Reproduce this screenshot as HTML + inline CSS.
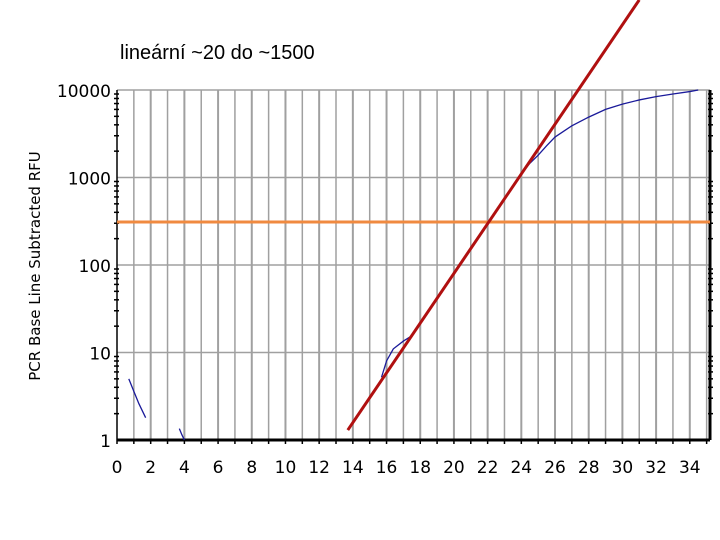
<!DOCTYPE html>
<html><head><meta charset="utf-8"><style>body{margin:0;background:#fff}svg{display:block}</style></head>
<body>
<svg id="c" width="720" height="540" font-family="'DejaVu Sans','Liberation Sans',sans-serif">
<text x="120" y="59" font-family="'Liberation Sans',sans-serif" font-size="20">lineární ~20 do ~1500</text>
<text transform="translate(40,266) rotate(-90)" text-anchor="middle" font-size="15">PCR Base Line Subtracted RFU</text>
<g id="grid"></g><g id="axes"></g><g id="marks"></g>
</svg>
<script>
const xTicks=[0,2,4,6,8,10,12,14,16,18,20,22,24,26,28,30,32,34];
const yTicks=[1,10,100,1000,10000];
const seg1X=[0.7,1.0,1.3,1.7];
const seg1Y=[5,3.6,2.6,1.8];
const seg2X=[3.7,3.85,4.0];
const seg2Y=[1.35,1.15,1.0];
const curveX=[15.7,16.0,16.4,17.0,17.5,18,19,20,21,22,23,24,24.5,25,25.5,26,27,28,29,30,31,32,33,34,34.5];
const curveY=[5.2,8,11,13.5,15.5,21.6,41.6,80,154,296,569,1095,1450,1800,2300,2900,3900,4900,6000,6900,7700,8400,9000,9600,10000];
const fitX=[13.7,31.0];
const fitY=[1.3,107000];
const threshold=[310];
const L=117,R=710,T=90,B=440,XMAX=35.2;
const sx=v=>L+v/XMAX*(R-L);
const sy=v=>B-Math.log10(v)/4*(B-T);
const ns="http://www.w3.org/2000/svg";
function mk(p,t,a){const e=document.createElementNS(ns,t);for(const k in a)e.setAttribute(k,a[k]);document.getElementById(p).appendChild(e);return e;}
for(let i=1;i<=35;i++){const e=mk('grid','line',{x1:sx(i),x2:sx(i),y1:T,y2:B,stroke:'#a0a0a0','stroke-width':i%2?1.5:2});

}
yTicks.forEach(v=>{const e=mk('grid','line',{x1:L,x2:R,y1:sy(v),y2:sy(v),stroke:'#a0a0a0','stroke-width':1.5});


const t=mk('axes','text',{x:L-6,y:sy(v)+7,'text-anchor':'end','font-size':17});t.textContent=v;

});
xTicks.forEach(v=>{const t=mk('axes','text',{x:sx(v),y:B+33,'text-anchor':'middle','font-size':17});t.textContent=v;

});
for(let d=0;d<4;d++)for(let m=2;m<=9;m++){const y=sy(Math.pow(10,d)*m);
mk('axes','line',{x1:L-3,x2:L+2,y1:y,y2:y,stroke:'#000','stroke-width':1.5});
mk('axes','line',{x1:R-2,x2:R+3,y1:y,y2:y,stroke:'#000','stroke-width':1.5});}
mk('axes','line',{x1:L,x2:L,y1:T,y2:B,stroke:'#000','stroke-width':1.5});
mk('axes','line',{x1:R,x2:R,y1:T,y2:B,stroke:'#000','stroke-width':3});
mk('axes','line',{x1:L,x2:R,y1:B,y2:B,stroke:'#000','stroke-width':3});
for(let i=0;i<=35;i++)mk('axes','line',{x1:sx(i),x2:sx(i),y1:B,y2:B+4,stroke:'#000','stroke-width':1.5});
function line(xs,ys,col,w,name){const p=mk('marks','polyline',{points:xs.map((x,i)=>sx(x)+','+sy(ys[i])).join(' '),fill:'none',stroke:col,'stroke-width':w});

}
line(seg1X,seg1Y,'#1a1a9a',1.3,'amplification-segment-1');
line(seg2X,seg2Y,'#1a1a9a',1.3,'amplification-segment-2');
line(curveX,curveY,'#1a1a9a',1.3,'amplification-curve');
const th=mk('marks','line',{x1:L,x2:R,y1:sy(threshold[0]),y2:sy(threshold[0]),stroke:'#f08a40','stroke-width':3});


line(fitX,fitY,'#b01010',3,'linear-fit-line');
</script>
</body></html>
